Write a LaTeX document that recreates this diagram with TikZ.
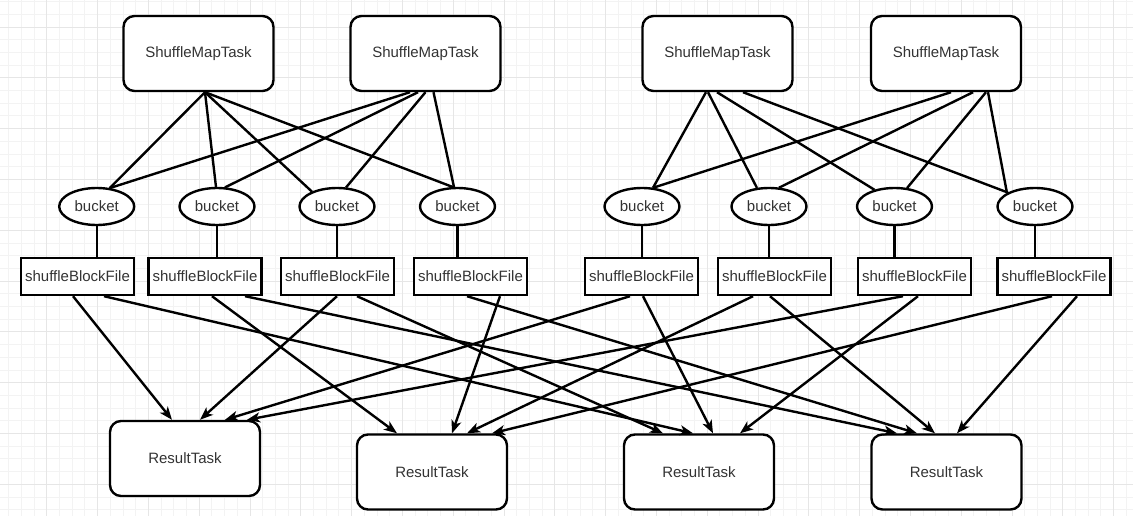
\documentclass[tikz,border=0pt]{standalone}
\usepackage{fontspec}
\setmainfont{Liberation Sans}
\usetikzlibrary{arrows.meta,calc,shapes.geometric}
\definecolor{txt}{HTML}{333333}
\definecolor{gminor}{HTML}{F3F3F3}
\definecolor{gmajor}{HTML}{E6E6E6}
\begin{document}
\begin{tikzpicture}[x=1pt,y=-1pt,
  every node/.style={font=\fontsize{15}{18}\selectfont, text=txt},
  task/.style={draw=black, line width=2.4pt, rounded corners=11pt, minimum width=150pt, minimum height=75pt, fill=white, inner sep=0pt},
  bkt/.style={draw=black, ellipse, line width=2.4pt, minimum width=75pt, minimum height=37pt, fill=white, inner sep=0pt},
  blk/.style={draw=black, line width=2.4pt, minimum width=113pt, minimum height=37pt, fill=white, inner sep=0pt},
  link/.style={line width=2.4pt, draw=black},
  arr/.style={line width=2.4pt, draw=black, -{Stealth[length=13pt,width=10pt,inset=3.5pt]}},
  gmin/.style={draw=gminor, line width=0.8pt},
  gmaj/.style={draw=gmajor, line width=0.8pt}]
\useasboundingbox (0,0) rectangle (1133,516);
\fill[white] (0,0) rectangle (1133,516);
% grid
\foreach \i in {0,...,89} \draw[gmin] ({8.6+12.7*\i},0) -- ({8.6+12.7*\i},516);
\foreach \i in {0,...,41} \draw[gmin] (0,{1.6+12.7*\i}) -- (1133,{1.6+12.7*\i});
\foreach \i in {0,...,23} \draw[gmaj] ({-4.1+50.8*\i},0) -- ({-4.1+50.8*\i},516);
\foreach \i in {0,...,11} \draw[gmaj] (0,{-23.8+50.8*\i}) -- (1133,{-23.8+50.8*\i});

% map tasks
\node[task] (s1) at (198.5,53.5) {ShuffleMapTask};
\node[task] (s2) at (425.5,53.5) {ShuffleMapTask};
\node[task] (s3) at (717.5,53.5) {ShuffleMapTask};
\node[task] (s4) at (946,53.5) {ShuffleMapTask};
% buckets
\node[bkt] (b1) at (96.7,206.5) {bucket};
\node[bkt] (b2) at (217,206.5) {bucket};
\node[bkt] (b3) at (337,206.5) {bucket};
\node[bkt] (b4) at (457.5,206.5) {bucket};
\node[bkt] (b5) at (642,206.5) {bucket};
\node[bkt] (b6) at (769,206.5) {bucket};
\node[bkt] (b7) at (894.5,206.5) {bucket};
\node[bkt] (b8) at (1035,206.5) {bucket};
% block files
\node[blk] (f1) at (77.5,276.5) {shuffleBlockFile};
\node[blk] (f2) at (205,276.5) {shuffleBlockFile};
\node[blk] (f3) at (337.5,276.5) {shuffleBlockFile};
\node[blk] (f4) at (470.5,276.5) {shuffleBlockFile};
\node[blk] (f5) at (641.5,276.5) {shuffleBlockFile};
\node[blk] (f6) at (774.5,276.5) {shuffleBlockFile};
\node[blk] (f7) at (914.5,276.5) {shuffleBlockFile};
\node[blk] (f8) at (1054,276.5) {shuffleBlockFile};
% result tasks
\node[task] (r1) at (185,458.5) {ResultTask};
\node[task] (r2) at (432,472) {ResultTask};
\node[task] (r3) at (699,472) {ResultTask};
\node[task] (r4) at (946.5,472) {ResultTask};

% map task -> bucket
\draw[link] ($(s1.south)+(6.5,0)$) -- ($(b1.center)+(13,-18.4)$);
\draw[link] ($(s1.south)+(6.5,0)$) -- ($(b2.center)+(-1,-19.5)$);
\draw[link] ($(s1.south)+(6.5,0)$) -- ($(b3.center)+(-25,-14.8)$);
\draw[link] ($(s1.south)+(6.5,0)$) -- ($(b4.center)+(-4.5,-19.4)$);
\draw[link] ($(s2.south)+(-15.5,0)$) -- ($(b1.center)+(13,-18.4)$);
\draw[link] ($(s2.south)+(-7.5,0)$) -- ($(b2.center)+(8,-19.1)$);
\draw[link] ($(s2.south)+(0,0)$) -- ($(b3.center)+(9,-19)$);
\draw[link] ($(s2.south)+(8,0)$) -- ($(b4.center)+(-3.5,-19.4)$);
\draw[link] ($(s3.south)+(-11.5,0)$) -- ($(b5.center)+(11,-18.7)$);
\draw[link] ($(s3.south)+(-9.5,0)$) -- ($(b6.center)+(-12,-18.5)$);
\draw[link] ($(s3.south)+(-0.5,0)$) -- ($(b7.center)+(-20,-16.7)$);
\draw[link] ($(s3.south)+(25.5,0)$) -- ($(b8.center)+(-27,-13.9)$);
\draw[link] ($(s4.south)+(5,0)$) -- ($(b5.center)+(11,-18.7)$);
\draw[link] ($(s4.south)+(27,0)$) -- ($(b6.center)+(10,-18.8)$);
\draw[link] ($(s4.south)+(40,0)$) -- ($(b7.center)+(12.5,-18.4)$);
\draw[link] ($(s4.south)+(42,0)$) -- ($(b8.center)+(-28,-13.4)$);

% bucket -> block file
\foreach \k in {1,...,8} \draw[link] (b\k.south) -- (b\k.south |- f\k.north);

% block file -> result task
\draw[arr] ($(f1.south)+(-4.5,0)$) -- ($(r1.north)+(-13,0)$);
\draw[arr] ($(f1.south)+(26.5,0)$) -- ($(r3.north)+(-6,0)$);
\draw[arr] ($(f2.south)+(7,0)$) -- ($(r2.north)+(-35,0)$);
\draw[arr] ($(f2.south)+(40,0)$) -- ($(r4.north)+(-49.5,0)$);
\draw[arr] ($(f3.south)+(-0.5,0)$) -- ($(r1.north)+(15,0)$);
\draw[arr] ($(f3.south)+(19.5,0)$) -- ($(r3.north)+(-36,0)$);
\draw[arr] ($(f4.south)+(-3.5,0)$) -- ($(r4.north)+(-29.5,0)$);
\draw[arr] ($(f4.south)+(29.5,0)$) -- ($(r2.north)+(20,0)$);
\draw[arr] ($(f5.south)+(-11.5,0)$) -- ($(r1.north)+(40,0)$);
\draw[arr] ($(f5.south)+(1.5,0)$) -- ($(r3.north)+(14,0)$);
\draw[arr] ($(f6.south)+(-21.5,0)$) -- ($(r2.north)+(35,0)$);
\draw[arr] ($(f6.south)+(-4.5,0)$) -- ($(r4.north)+(-11.5,0)$);
\draw[arr] ($(f7.south)+(-11.5,0)$) -- ($(r1.north)+(62,0)$);
\draw[arr] ($(f7.south)+(3.5,0)$) -- ($(r3.north)+(41,0)$);
\draw[arr] ($(f8.south)+(-2,0)$) -- ($(r2.north)+(60,0)$);
\draw[arr] ($(f8.south)+(23,0)$) -- ($(r4.north)+(10.5,0)$);
\end{tikzpicture}
\end{document}
